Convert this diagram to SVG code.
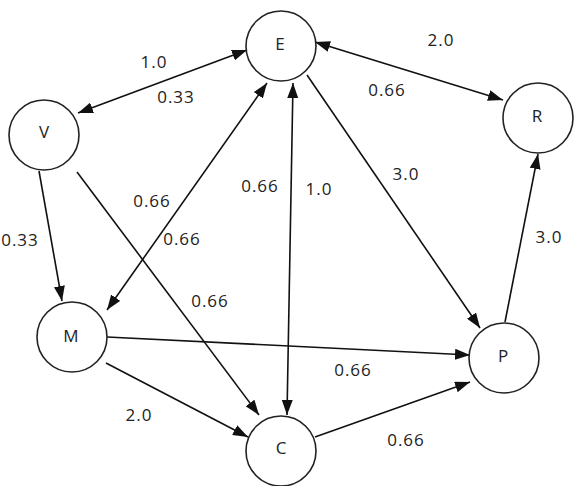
<svg xmlns="http://www.w3.org/2000/svg" width="577" height="486" viewBox="0 0 577 486">
<style>
.node{fill:#fff;stroke:#222;stroke-width:1.6}
.nl{font-family:"Open Sans","DejaVu Sans",sans-serif;font-size:17px;fill:#222;text-anchor:middle;dominant-baseline:central}
.el{font-family:"Open Sans","DejaVu Sans",sans-serif;font-size:17px;fill:#222;text-anchor:middle;dominant-baseline:central;letter-spacing:1px}
.edge{stroke:#111;stroke-width:1.6;fill:none}
.a{marker-end:url(#ah)}
.d{marker-start:url(#ah);marker-end:url(#ah)}
</style>
<defs>
<marker id="ah" markerUnits="userSpaceOnUse" markerWidth="15" markerHeight="11" refX="15" refY="5.5" orient="auto-start-reverse" viewBox="0 0 15 11">
<path d="M0,0 L15,5.5 L0,11 z" fill="#111"/>
</marker>
</defs>
<rect width="577" height="486" fill="#fff"/>
<g id="connectors">
<line class="edge d" x1="78" y1="113" x2="247" y2="50"/>
<line class="edge d" x1="315" y1="42" x2="503" y2="100"/>
<line class="edge a" x1="307" y1="75" x2="480" y2="328"/>
<line class="edge a" x1="505" y1="322" x2="538" y2="154"/>
<line class="edge d" x1="293" y1="83" x2="287" y2="415"/>
<line class="edge d" x1="107" y1="310" x2="267" y2="83"/>
<line class="edge a" x1="77" y1="172" x2="259" y2="415"/>
<line class="edge a" x1="39" y1="171" x2="62" y2="301"/>
<line class="edge a" x1="107" y1="337" x2="470" y2="355"/>
<line class="edge a" x1="106" y1="363" x2="248" y2="437"/>
<line class="edge a" x1="315" y1="437" x2="470" y2="382"/>
</g>
<g id="edge-labels">
<text class="el" x="154" y="61">1.0</text>
<text class="el" x="176" y="96">0.33</text>
<text class="el" x="441" y="39">2.0</text>
<text class="el" x="387" y="89">0.66</text>
<text class="el" x="406" y="173">3.0</text>
<text class="el" x="549" y="236">3.0</text>
<text class="el" x="260" y="185">0.66</text>
<text class="el" x="319" y="188">1.0</text>
<text class="el" x="152" y="200">0.66</text>
<text class="el" x="182" y="238">0.66</text>
<text class="el" x="210" y="300">0.66</text>
<text class="el" x="20" y="239">0.33</text>
<text class="el" x="353" y="369">0.66</text>
<text class="el" x="139" y="414">2.0</text>
<text class="el" x="406" y="439">0.66</text>
</g>
<g id="node-E"><circle class="node" cx="281" cy="46" r="35"/><text class="nl" x="280" y="43">E</text></g>
<g id="node-V"><circle class="node" cx="44" cy="135" r="35"/><text class="nl" x="44" y="131">V</text></g>
<g id="node-R"><circle class="node" cx="538" cy="118" r="35"/><text class="nl" x="537" y="115">R</text></g>
<g id="node-M"><circle class="node" cx="72" cy="337" r="35"/><text class="nl" x="71" y="335">M</text></g>
<g id="node-P"><circle class="node" cx="504" cy="358" r="35"/><text class="nl" x="503" y="355">P</text></g>
<g id="node-C"><circle class="node" cx="281" cy="451" r="35"/><text class="nl" x="281" y="447">C</text></g>
</svg>
